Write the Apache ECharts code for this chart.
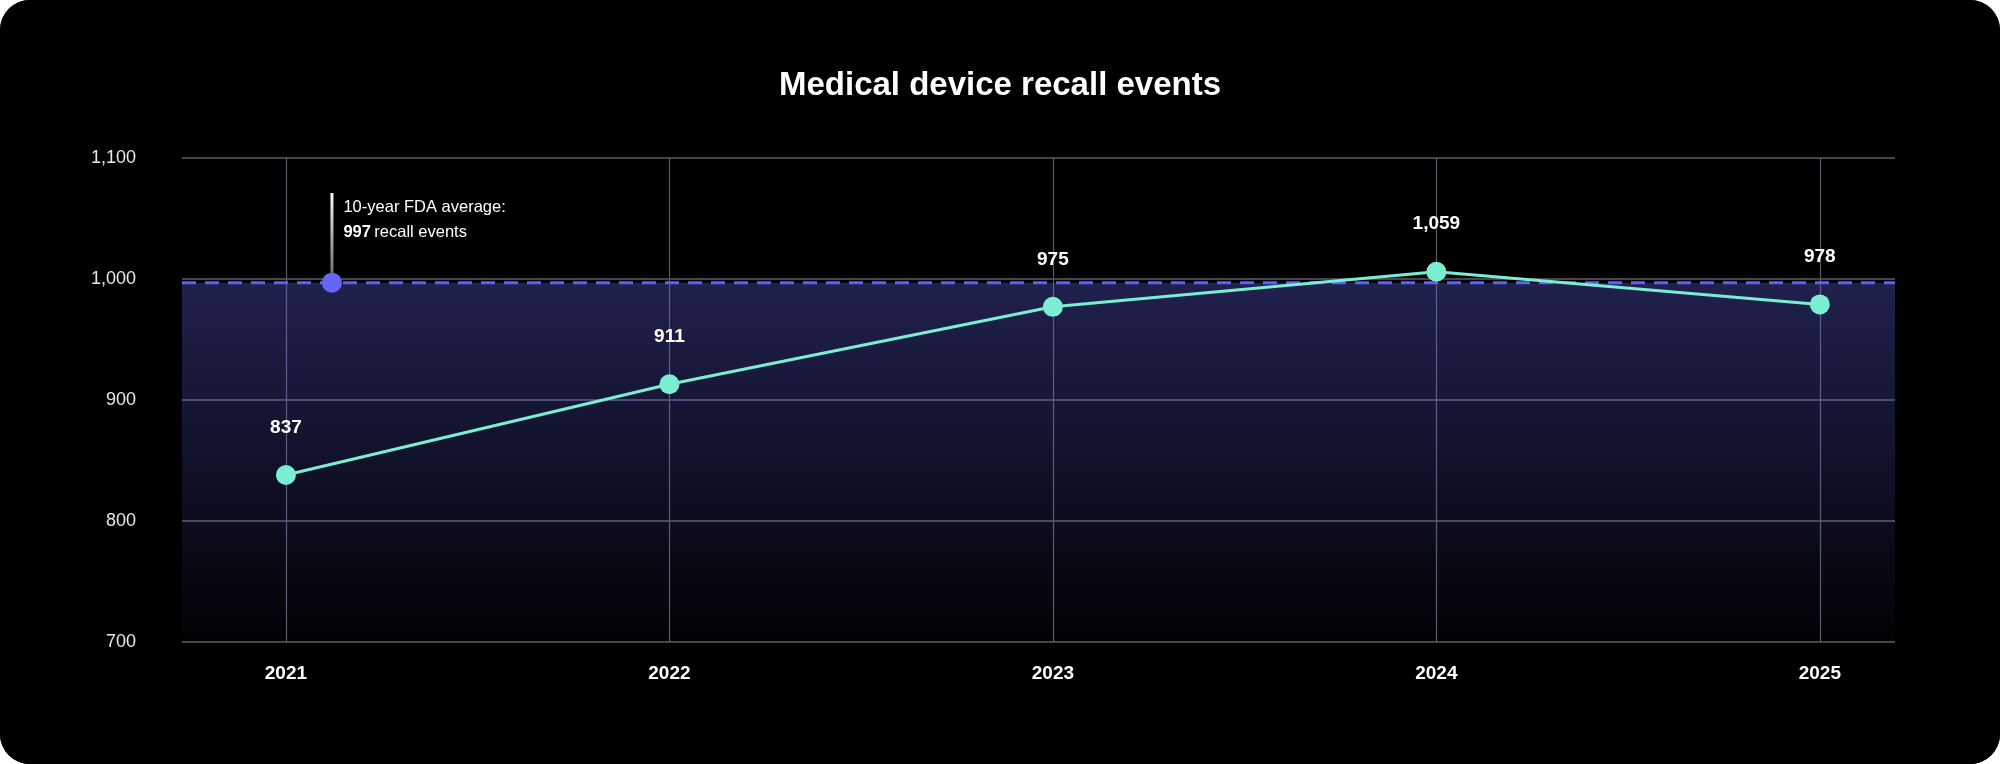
<!DOCTYPE html>
<html>
<head>
<meta charset="utf-8">
<title>Medical device recall events</title>
<script src="https://cdn.jsdelivr.net/npm/echarts@6/dist/echarts.min.js"></script>
<style>
  html, body { margin: 0; padding: 0; background: #ffffff; }
  #main { width: 2000px; height: 764px; border-radius: 30px; overflow: hidden; background: #000; }
</style>
</head>
<body>
<div id="main"></div>
<script>
// data
var years = [2021, 2022, 2023, 2024, 2025];
var recalls = [838, 913, 977, 1006, 979];          // where the points sit
var recallLabels = ['837', '911', '975', '1,059', '978']; // what the labels say
var fdaAverage = 997;
var yTicks = [700, 800, 900, 1000, 1100];

var xMin = 2020.729, xMax = 2025.196;   // axis extent around the years
var noteX = 2021.12;                     // where the average note sits

var font = '"Liberation Sans", Arial, Helvetica, sans-serif';
var myChart = echarts.init(document.getElementById('main'));

var linePoints = [];
for (var i = 0; i < years.length; i++) {
    linePoints.push([years[i], recalls[i]]);
}

var option = {
    backgroundColor: '#000',
    animation: false,
    title: {
        text: 'Medical device recall events',
        left: 'center',
        top: 64,
        textStyle: { color: '#fff', fontSize: 33, fontWeight: 'bold', fontFamily: font }
    },
    grid: { left: 182, right: 105, top: 158, bottom: 122 },
    xAxis: {
        type: 'value',
        min: xMin,
        max: xMax,
        axisLine: { show: false },
        axisTick: { show: false, customValues: years },
        axisLabel: {
            customValues: years,
            margin: 22,
            color: '#fff',
            fontSize: 19,
            fontWeight: 'bold',
            fontFamily: font,
            formatter: function (v) { return String(Math.round(v)); }
        },
        splitLine: { show: true, lineStyle: { color: '#5a5a66', width: 1.2 } }
    },
    yAxis: {
        type: 'value',
        min: yTicks[0],
        max: yTicks[yTicks.length - 1],
        interval: 100,
        axisLine: { show: false },
        axisTick: { show: false },
        axisLabel: {
            margin: 46,
            color: '#e6e6e6',
            fontSize: 18,
            fontFamily: font,
            formatter: function (v) { return v.toLocaleString('en-US'); }
        },
        splitLine: { lineStyle: { color: '#5d5d6a', width: 1.5 } }
    },
    series: [
        {
            // dashed average line + shaded band below it
            name: 'average',
            type: 'line',
            data: [[xMin, fdaAverage], [xMax, fdaAverage]],
            symbol: 'none',
            z: 1,
            lineStyle: { color: '#5d61f7', width: 3, type: [14, 9] },
            areaStyle: {
                origin: 'start',
                opacity: 1,
                color: new echarts.graphic.LinearGradient(0, 0, 0, 1, [
                    { offset: 0, color: 'rgba(99,102,241,0.32)' },
                    { offset: 1, color: 'rgba(99,102,241,0.02)' }
                ])
            },
            silent: true
        },
        {
            // little stem above the average marker
            name: 'stem',
            type: 'line',
            data: [[noteX, 1071], [noteX, 1003]],
            symbol: 'none',
            z: 2,
            lineStyle: {
                width: 3,
                color: new echarts.graphic.LinearGradient(0, 0, 0, 1, [
                    { offset: 0, color: '#ffffff' },
                    { offset: 1, color: 'rgba(255,255,255,0.4)' }
                ])
            },
            silent: true
        },
        {
            name: 'avgPoint',
            type: 'scatter',
            data: [[noteX, fdaAverage]],
            symbolSize: 20,
            z: 3,
            itemStyle: { color: '#6467f6', opacity: 1 }
        },
        {
            // note text next to the stem
            name: 'note',
            type: 'scatter',
            data: [[noteX, 1071]],
            symbolSize: 1,
            itemStyle: { color: 'rgba(0,0,0,0)', opacity: 1 },
            z: 4,
            label: {
                show: true,
                position: 'right',
                distance: 11,
                offset: [0, 27],
                formatter: '{a|10-year FDA average:}\n{b|' + fdaAverage + '} {a|recall events}',
                rich: {
                    a: { color: '#ffffff', fontSize: 16.5, fontFamily: font, lineHeight: 25 },
                    b: { color: '#ffffff', fontSize: 16.5, fontWeight: 'bold', fontFamily: font, lineHeight: 25 }
                }
            }
        },
        {
            name: 'Recall events',
            type: 'line',
            data: linePoints,
            symbol: 'circle',
            symbolSize: 20,
            z: 5,
            lineStyle: { color: '#7aeed3', width: 3 },
            itemStyle: { color: '#7aeed3' },
            label: {
                show: true,
                position: 'top',
                distance: 28,
                color: '#fff',
                fontSize: 19,
                fontWeight: 'bold',
                fontFamily: font,
                formatter: function (p) { return recallLabels[p.dataIndex]; }
            }
        }
    ]
};

myChart.setOption(option);
</script>
</body>
</html>
